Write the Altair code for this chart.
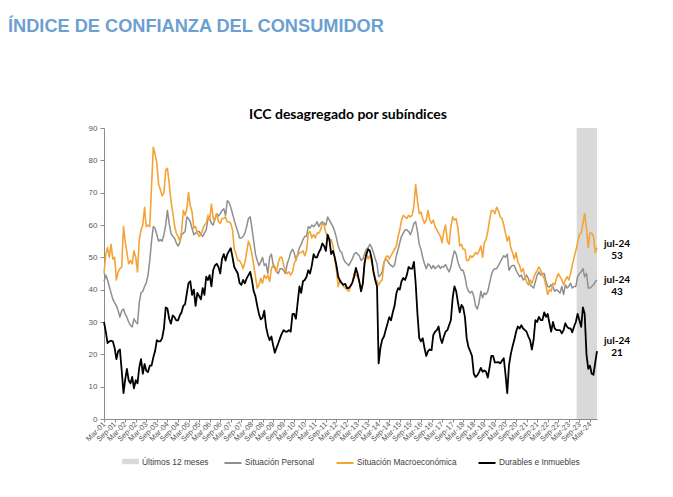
import altair as alt
import pandas as pd

# ---------------- data ----------------
start_month = "2001-03-01"
end_month = "2024-07-01"

situacion_personal = [
    42.5, 44.5, 43, 41, 39, 37, 36, 35, 33.5, 31.5, 33.5, 34, 32.5, 31.5, 30, 29, 28.5, 31, 30, 29.5,
    36, 39, 39.5, 41, 42, 44.5, 49, 55, 59.5, 59, 57, 55, 55.5, 55, 57, 60, 64.5, 60.5, 57.5, 56.5,
    56, 54.5, 53.5, 54.5, 57, 57.5, 58, 62.5, 62, 61, 59, 57, 57.5, 58, 58, 57, 56.5, 57.5,
    58.5, 62, 62, 60.5, 60, 62, 63.5, 62.8, 63.5, 64.5, 65, 63, 67.5, 67, 65.5, 63.5, 61.5, 59.5, 58, 56,
    56, 56.5, 57.5, 59.5, 62, 62.5, 59, 55, 51, 49, 47.5, 48.5, 50, 47.5, 48, 45, 50, 51, 48, 47,
    45.5, 45, 46.5, 46.5, 46, 45, 48, 49.5, 51.5, 52.5, 51.5, 49, 51, 53, 54, 55.5, 56.5,
    56.5, 59.5, 59, 60, 59.5, 60, 61, 59.5, 60.5, 61, 60.5, 60, 62.5, 61.5, 60.5, 59.5, 58, 56, 53.5, 52,
    51.5, 49.5, 48.5, 48, 47.5, 48.5, 49.5, 51, 51.5, 51, 50.5, 49, 49.5, 51, 52.5, 53, 54, 53, 51.5, 49.5,
    48, 44, 44.5, 45.5, 48.5, 49.5, 49, 48, 47.5, 47, 47.5, 50.5, 52.5, 54.5, 56.5, 57.5, 58.5,
    58.5, 58, 57, 58.5, 60.5, 61, 58, 54, 52.5, 50, 48, 46.5, 48, 47.5, 46.5, 47.5, 46.5, 47, 47.5, 46.5,
    47.2, 47, 47.8, 46.5, 45.5, 47, 50, 52, 51, 48.5, 47, 46, 46, 44, 41, 39.5, 39, 39.5, 38, 35,
    34, 36, 39.5, 37.5, 39, 38.5, 39.5, 42, 44.5, 46, 46.5, 46.5, 47.5, 48.5, 49.5, 50.5, 50,
    51, 46, 47, 47.5, 47.5, 46, 45, 44, 44.5, 43, 43.5, 44.5, 43.5, 41.5, 41, 40.5, 42.5, 44.5, 45.5, 44.5,
    45, 45, 42.5, 41, 40.8, 41.5, 40.8, 39.5, 40, 39.5, 39, 41, 38.5, 41.5, 40.5, 41, 42, 40.5, 41, 41,
    44, 45, 45.5, 46.5, 44, 45, 40.5, 40.5, 41, 41.5, 42.5, 43,
]

situacion_macro = [
    45, 51, 53, 50, 54, 49.5, 50, 43, 45.5, 46.5, 47, 59.5, 55, 51.5, 48, 49, 48, 52, 50, 45.5,
    55.5, 58.5, 60, 65.5, 59.5, 60, 59.5, 72, 84, 82, 79, 72.5, 71, 69, 70, 77, 77.5, 73, 67.5, 64,
    60, 57.5, 56.5, 55, 58, 64.5, 63, 65, 70, 66, 64, 59, 59.5, 57.5, 56.5, 57, 58.5, 60,
    60.5, 63, 61.5, 66.5, 62, 61.5, 63.5, 61, 60.5, 62, 62, 62.5, 61, 61, 60.5, 58.5, 52.5, 51, 49, 49,
    48, 46.5, 48.5, 51.5, 55, 53.5, 51, 47.5, 44, 40.5, 41.5, 43.5, 42, 44.5, 43.5, 44.5, 42.5, 46.5, 47.5, 46.5,
    45.5, 48.5, 50, 50, 47.5, 46, 45, 45.5, 44.5, 45.5, 48, 49.5, 50.5, 51.5, 51.5, 52, 50.5,
    52, 57.5, 58, 56, 57, 56, 57.5, 57.5, 58.5, 60.5, 60, 57.5, 56.5, 55, 55.5, 53.5, 49.5, 46, 41, 43,
    42, 41, 40.5, 40, 39.5, 41, 42, 45, 44.5, 44, 42.5, 39.5, 42, 48.5, 51.5, 49.5, 50.5, 48.5, 46, 43.5,
    42.5, 41.5, 42.5, 43, 48, 50, 50.5, 49.5, 50.5, 51.5, 52.5, 53.5, 56.5, 58.5, 61.5, 63, 62.5,
    62, 63, 62.5, 63, 66, 72.5, 67.5, 63.5, 64, 62, 60.5, 61.5, 64.5, 61.5, 60.5, 61.5, 59.5, 58.5, 57.5, 56.5,
    54.5, 58, 60, 55, 54, 59.5, 62.5, 61.5, 62, 59, 53.5, 54, 52.5, 52.5, 49, 49, 50.5, 50, 50.5, 51.5,
    51, 52, 53.5, 50, 54.5, 55.5, 58, 61.5, 64.5, 64.5, 63.5, 65.5, 64.5, 62.5, 62, 60, 57.5,
    55, 56.5, 53, 51.5, 49.5, 51.5, 48.5, 47.5, 45.5, 46.5, 44, 42.5, 41.5, 43, 42, 43.5, 45, 46, 47, 46,
    44.5, 43.5, 41, 38.5, 40, 39.5, 42, 41.5, 43.5, 45, 44, 43, 41.5, 43, 44, 43, 45, 47.5, 50, 52,
    54.5, 57, 57.5, 60.5, 63.5, 59, 53, 57.5, 57.5, 56.5, 51.5, 53,
]

durables_inmuebles = [
    30, 27, 23.5, 24, 24.2, 24, 22, 18.5, 21, 21.5, 15, 8, 12, 15.5, 12, 11, 13, 9.5, 12, 11,
    16, 18.5, 14, 17, 15, 14.5, 16.5, 16.5, 19, 21, 24.4, 24, 24, 25, 28, 34.5, 34.2, 31, 29.5, 32,
    31.5, 30.5, 30.5, 32, 33, 35, 35.5, 39, 42, 42.6, 38.4, 40, 35, 39, 38, 37, 40.5, 38.4,
    44, 43, 44.5, 41, 46, 47.5, 48, 47, 45, 49.5, 51, 49, 51, 52, 52.8, 50, 47, 46, 45, 42,
    41.5, 43, 42, 43.5, 44.5, 45.5, 43, 39.5, 38, 35, 32.5, 30.8, 31.3, 33.5, 28.5, 26, 24.4, 25.5, 23, 20.5,
    22, 23.5, 25, 26.5, 27.5, 27, 27, 27.5, 27, 32.5, 32.5, 31, 36, 41, 39, 42.6, 43,
    44, 46, 45, 47.5, 51, 50, 50, 51.5, 52.5, 54.3, 53.5, 52, 57, 55.5, 51, 52, 50, 47.5, 44, 42.8,
    42, 41.5, 41.8, 40.5, 40.5, 41.2, 42.2, 44, 46.7, 45, 42.5, 39.5, 42, 48.2, 51, 52.5, 52, 49.5, 45.5, 43,
    41, 17.2, 22, 24.5, 25.5, 27.5, 29.5, 31.5, 30.5, 33, 35, 38.8, 40.5, 40, 42.6, 43.6, 43,
    44.5, 47, 46.5, 46.5, 48.6, 42, 32.5, 25, 24, 25, 22, 19.5, 21, 21.5, 21.3, 26, 27, 27.5, 28.6, 25,
    23.5, 25.5, 27, 27.5, 29, 30.6, 37.5, 41, 39.5, 36, 33, 35.3, 34.5, 31.5, 25, 22.2, 21, 19.5, 14, 13,
    13.5, 14.5, 15.8, 14.6, 15, 14.6, 12.8, 16, 19.5, 19.5, 17.5, 17.5, 17.6, 17.2, 18, 18.8, 14,
    8, 16.5, 20, 22.4, 24.4, 27, 28.6, 28, 29, 28, 27.5, 27, 25.5, 24.4, 21.5, 24.5, 30.6, 30, 31.6, 30.6,
    30.6, 33, 31.6, 32.5, 29.6, 27, 30, 28, 27.5, 27.5, 27.5, 26.5, 27.5, 29.6, 28.5, 28, 28, 26.8, 28.6, 30,
    32.5, 30.5, 28.5, 34.5, 32.5, 20, 15.5, 16.5, 14, 13.7, 17.5, 21,
]

series_names = ["Situación Personal", "Situación Macroeconómica", "Durables e Inmuebles"]
series_colors = ["#8F8F8F", "#F4A437", "#000000"]
band_name = "Últimos 12 meses"
band_start = "2023-07-16"
band_end = end_month
end_label = "jul-24"
heading = "ÍNDICE DE CONFIANZA DEL CONSUMIDOR"
chart_title = "ICC desagregado por subíndices"
y_ticks = [0, 10, 20, 30, 40, 50, 60, 70, 80, 90]

# ---------------- tables ----------------
months = pd.date_range(start_month, end_month, freq="MS")
frames = []
for name, vals in zip(series_names, [situacion_personal, situacion_macro, durables_inmuebles]):
    frames.append(pd.DataFrame({"fecha": months, "valor": vals, "serie": name}))
long_df = pd.concat(frames, ignore_index=True)

band_df = pd.DataFrame({
    "fecha": [pd.Timestamp(band_start)],
    "fin": [pd.Timestamp(band_end)],
    "valor": [0], "y1": [90],
    "serie": [band_name],
})

last_df = pd.DataFrame({
    "fecha": [months[-1]] * 3,
    "valor": [situacion_macro[-1], situacion_personal[-1], durables_inmuebles[-1]],
})
last_df["txt"] = [end_label + "\n" + str(int(round(v))) for v in last_df["valor"]]

tick_dates = pd.date_range("2001-03-01", "2024-03-01", freq="6MS")
tick_values = [alt.DateTime(year=d.year, month=d.month, date=1) for d in tick_dates]

FONT = "Liberation Sans"
AXIS_COL = "#8C8C8C"
LABEL_COL = "#595959"

x_scale = alt.Scale(
    domain=[alt.DateTime(year=2001, month=3, date=1), alt.DateTime(year=2024, month=7, date=1)],
    nice=False,
)
y_scale = alt.Scale(domain=[0, 90], nice=False)

x_axis = alt.Axis(
    values=tick_values, format="%b-%y", labelAngle=-45, labelAlign="right",
    labelBaseline="middle", labelFontSize=7.5, labelFont=FONT, labelColor=LABEL_COL,
    labelOverlap=False, labelBound=False, labelFlush=False, labelPadding=1,
    tickSize=3, tickColor=AXIS_COL, domainColor=AXIS_COL, grid=False, title=None,
)
y_axis = alt.Axis(
    values=y_ticks, labelFontSize=8, labelFont=FONT, labelColor=LABEL_COL,
    labelOverlap=False, labelBound=False, labelFlush=False,
    tickSize=4, tickColor=AXIS_COL, domainColor=AXIS_COL, grid=False, title=None, labelPadding=3,
)

X = alt.X("fecha:T", scale=x_scale, axis=x_axis)
Y = alt.Y("valor:Q", scale=y_scale, axis=y_axis)

band = alt.Chart(band_df).mark_rect().encode(
    x=X,
    x2="fin:T",
    y=Y,
    y2="y1:Q",
    fill=alt.Fill(
        "serie:N",
        scale=alt.Scale(domain=[band_name], range=["#D9D9D9"]),
        legend=alt.Legend(
            orient="none", legendX=18, legendY=325, direction="horizontal", title=None,
            symbolType="M-1,-0.32H1V0.32H-1Z", symbolSize=280, symbolStrokeWidth=0,
            labelFont=FONT, labelFontSize=8.4, labelColor="#404040", labelOffset=3,
        ),
    ),
)

color_enc = alt.Color(
    "serie:N",
    scale=alt.Scale(domain=series_names, range=series_colors),
    legend=alt.Legend(
        orient="none", legendX=119, legendY=325, direction="horizontal", title=None,
        symbolType="stroke", symbolSize=290, symbolStrokeWidth=2,
        labelFont=FONT, labelFontSize=8.3, labelColor="#404040", labelOffset=2,
        columnPadding=17,
    ),
)

def line_layer(name, width):
    return alt.Chart(long_df).transform_filter(alt.datum.serie == name).mark_line(
        strokeWidth=width, strokeJoin="round"
    ).encode(x=X, y=Y, color=color_enc)

lines = [line_layer(series_names[0], 1.5), line_layer(series_names[1], 1.6), line_layer(series_names[2], 1.8)]

def end_text(row, dy):
    return alt.Chart(last_df.iloc[[row]]).mark_text(
        font="Lato", fontWeight="bold", fontSize=10, color="#000000",
        align="center", baseline="middle", lineBreak="\n", lineHeight=12, dx=20, dy=dy,
    ).encode(x=X, y=Y, text="txt:N")

texts = [end_text(0, -4), end_text(1, 0), end_text(2, -10)]

heading_layer = alt.Chart(pd.DataFrame({"t": [heading]})).mark_text(
    font=FONT, fontWeight="bold", fontSize=18.2, color="#6C9FD2", align="left", baseline="middle",
).encode(text="t:N", x=alt.value(-96), y=alt.value(-101))

title_layer = alt.Chart(pd.DataFrame({"t": [chart_title]})).mark_text(
    font="Lato", fontWeight="bold", fontSize=14, color="#000000", align="center", baseline="middle",
).encode(text="t:N", x=alt.value(244), y=alt.value(-13))

chart = alt.layer(band, *lines, *texts, heading_layer, title_layer).properties(
    width=493, height=291,
    padding={"left": 96, "top": 120, "right": 64, "bottom": 66},
    autosize=alt.AutoSizeParams(type="none"),
).configure_view(stroke=None).resolve_scale(color="shared")

chart.save("out.html", embed_options={"renderer": "svg", "actions": False})
